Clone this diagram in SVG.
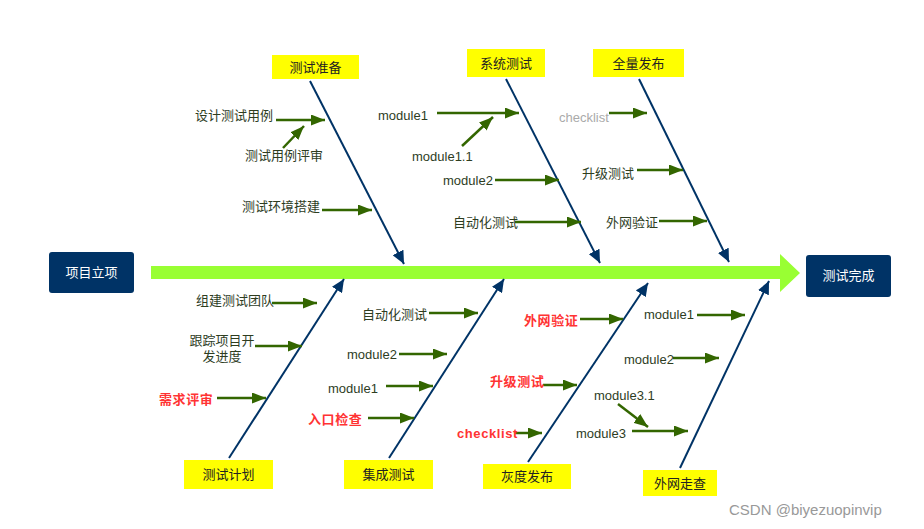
<svg xmlns="http://www.w3.org/2000/svg" width="924" height="529" viewBox="0 0 924 529">
<style>
text{font-family:"Liberation Sans","Noto Sans CJK SC",Arial,sans-serif;font-size:13px;fill:#2E3D1F}
.end{fill:#003366}
.endt{fill:#FFFFFF;text-anchor:middle}
.cat{fill:#FFFF00}
.catt{fill:#222222;text-anchor:middle}
.bone{stroke:#003366;stroke-width:2;fill:none}
.sub{stroke:#336600;stroke-width:2.5;fill:none}
.red{fill:#FF3333;font-weight:bold;letter-spacing:0.6px}
.gray{fill:#AAAAAA}
.mid{text-anchor:middle}
</style>
<defs>
<marker id="ab" markerUnits="userSpaceOnUse" markerWidth="13" markerHeight="12" refX="13" refY="6" orient="auto"><path d="M0,0 L13,6 L0,12 z" fill="#003366"/></marker>
<marker id="ag" markerUnits="userSpaceOnUse" markerWidth="14" markerHeight="11" refX="14" refY="5.5" orient="auto"><path d="M0,0 L14,5.5 L0,11 z" fill="#336600"/></marker>
</defs>
<rect width="924" height="529" fill="#FFFFFF"/>
<g id="spine"><polygon points="151,266 780,266 780,254 800,273 780,292 780,279 151,279" fill="#99FF33"/></g>
<g id="start"><rect class="end" x="49" y="252" width="85" height="41" rx="3"/><text class="endt" x="91.5" y="277">项目立项</text></g>
<g id="finish"><rect class="end" x="806" y="255" width="85" height="42" rx="3"/><text class="endt" x="848.5" y="280">测试完成</text></g>
<g id="cat-prep"><rect class="cat" x="272" y="55" width="87" height="24"/><text class="catt" x="315.5" y="72">测试准备</text></g>
<g id="cat-sys"><rect class="cat" x="467" y="49" width="78" height="28"/><text class="catt" x="506" y="68">系统测试</text></g>
<g id="cat-full"><rect class="cat" x="593" y="49" width="91" height="28"/><text class="catt" x="638.5" y="68">全量发布</text></g>
<g id="cat-plan"><rect class="cat" x="184" y="460" width="89" height="29"/><text class="catt" x="228.5" y="479">测试计划</text></g>
<g id="cat-int"><rect class="cat" x="344" y="460" width="89" height="29"/><text class="catt" x="388.5" y="479">集成测试</text></g>
<g id="cat-gray"><rect class="cat" x="483" y="464" width="88" height="25"/><text class="catt" x="527" y="481">灰度发布</text></g>
<g id="cat-walk"><rect class="cat" x="643" y="470" width="74" height="26"/><text class="catt" x="680" y="488">外网走查</text></g>
<g id="connectors">
<line class="bone" x1="310" y1="81" x2="404" y2="264" marker-end="url(#ab)"/>
<line class="bone" x1="506" y1="79" x2="600" y2="263" marker-end="url(#ab)"/>
<line class="bone" x1="639" y1="79" x2="729" y2="262" marker-end="url(#ab)"/>
<line class="bone" x1="229" y1="458" x2="344" y2="279" marker-end="url(#ab)"/>
<line class="bone" x1="389" y1="458" x2="504" y2="279" marker-end="url(#ab)"/>
<line class="bone" x1="528" y1="462" x2="648" y2="283" marker-end="url(#ab)"/>
<line class="bone" x1="680" y1="468" x2="769" y2="281" marker-end="url(#ab)"/>
<line class="sub" x1="276" y1="120" x2="325" y2="120" marker-end="url(#ag)"/>
<line class="sub" x1="283" y1="148" x2="304" y2="126" marker-end="url(#ag)"/>
<line class="sub" x1="322" y1="210" x2="372" y2="210" marker-end="url(#ag)"/>
<line class="sub" x1="437" y1="113" x2="519" y2="113" marker-end="url(#ag)"/>
<line class="sub" x1="462" y1="146" x2="493" y2="117" marker-end="url(#ag)"/>
<line class="sub" x1="495" y1="180" x2="559" y2="180" marker-end="url(#ag)"/>
<line class="sub" x1="515" y1="222" x2="581" y2="222" marker-end="url(#ag)"/>
<line class="sub" x1="609" y1="113" x2="647" y2="113" marker-end="url(#ag)"/>
<line class="sub" x1="637" y1="170" x2="683" y2="170" marker-end="url(#ag)"/>
<line class="sub" x1="659" y1="221" x2="707" y2="221" marker-end="url(#ag)"/>
<line class="sub" x1="272" y1="303" x2="317" y2="303" marker-end="url(#ag)"/>
<line class="sub" x1="255" y1="346" x2="302" y2="346" marker-end="url(#ag)"/>
<line class="sub" x1="217" y1="398" x2="266" y2="398" marker-end="url(#ag)"/>
<line class="sub" x1="429" y1="313" x2="478" y2="313" marker-end="url(#ag)"/>
<line class="sub" x1="399" y1="354" x2="447" y2="354" marker-end="url(#ag)"/>
<line class="sub" x1="386" y1="386" x2="433" y2="386" marker-end="url(#ag)"/>
<line class="sub" x1="368" y1="418" x2="414" y2="418" marker-end="url(#ag)"/>
<line class="sub" x1="580" y1="319" x2="623" y2="319" marker-end="url(#ag)"/>
<line class="sub" x1="543" y1="385" x2="577" y2="385" marker-end="url(#ag)"/>
<line class="sub" x1="515" y1="433" x2="542" y2="433" marker-end="url(#ag)"/>
<line class="sub" x1="697" y1="315" x2="745" y2="315" marker-end="url(#ag)"/>
<line class="sub" x1="673" y1="358" x2="719" y2="358" marker-end="url(#ag)"/>
<line class="sub" x1="618" y1="404" x2="648" y2="427" marker-end="url(#ag)"/>
<line class="sub" x1="632" y1="431" x2="688" y2="431" marker-end="url(#ag)"/>
</g>
<g id="l-design"><text x="195" y="120">设计测试用例</text></g>
<g id="l-review"><text x="245" y="160">测试用例评审</text></g>
<g id="l-env"><text x="242" y="211">测试环境搭建</text></g>
<g id="l-sys-m1"><text x="378" y="120">module1</text></g>
<g id="l-sys-m11"><text x="412" y="161">module1.1</text></g>
<g id="l-sys-m2"><text x="443" y="185">module2</text></g>
<g id="l-sys-auto"><text x="453" y="227">自动化测试</text></g>
<g id="l-full-check"><text class="gray" x="559" y="122">checklist</text></g>
<g id="l-full-up"><text x="582" y="178">升级测试</text></g>
<g id="l-full-net"><text x="606" y="227">外网验证</text></g>
<g id="l-team"><text x="196" y="305">组建测试团队</text></g>
<g id="l-track"><text class="mid" x="222" y="345">跟踪项目开</text><text class="mid" x="222" y="361">发进度</text></g>
<g id="l-req"><text class="red" x="159" y="404">需求评审</text></g>
<g id="l-int-auto"><text x="362" y="319">自动化测试</text></g>
<g id="l-int-m2"><text x="347" y="359">module2</text></g>
<g id="l-int-m1"><text x="328" y="393">module1</text></g>
<g id="l-int-entry"><text class="red" x="308" y="424">入口检查</text></g>
<g id="l-gray-net"><text class="red" x="524" y="325">外网验证</text></g>
<g id="l-gray-up"><text class="red" x="490" y="386">升级测试</text></g>
<g id="l-gray-check"><text class="red" x="457" y="438">checklist</text></g>
<g id="l-walk-m1"><text x="644" y="319">module1</text></g>
<g id="l-walk-m2"><text x="624" y="364">module2</text></g>
<g id="l-walk-m31"><text x="594" y="400">module3.1</text></g>
<g id="l-walk-m3"><text x="576" y="438">module3</text></g>
<g id="watermark"><text x="729" y="515" style="fill:#999999;font-size:15px">CSDN @biyezuopinvip</text></g>
</svg>
